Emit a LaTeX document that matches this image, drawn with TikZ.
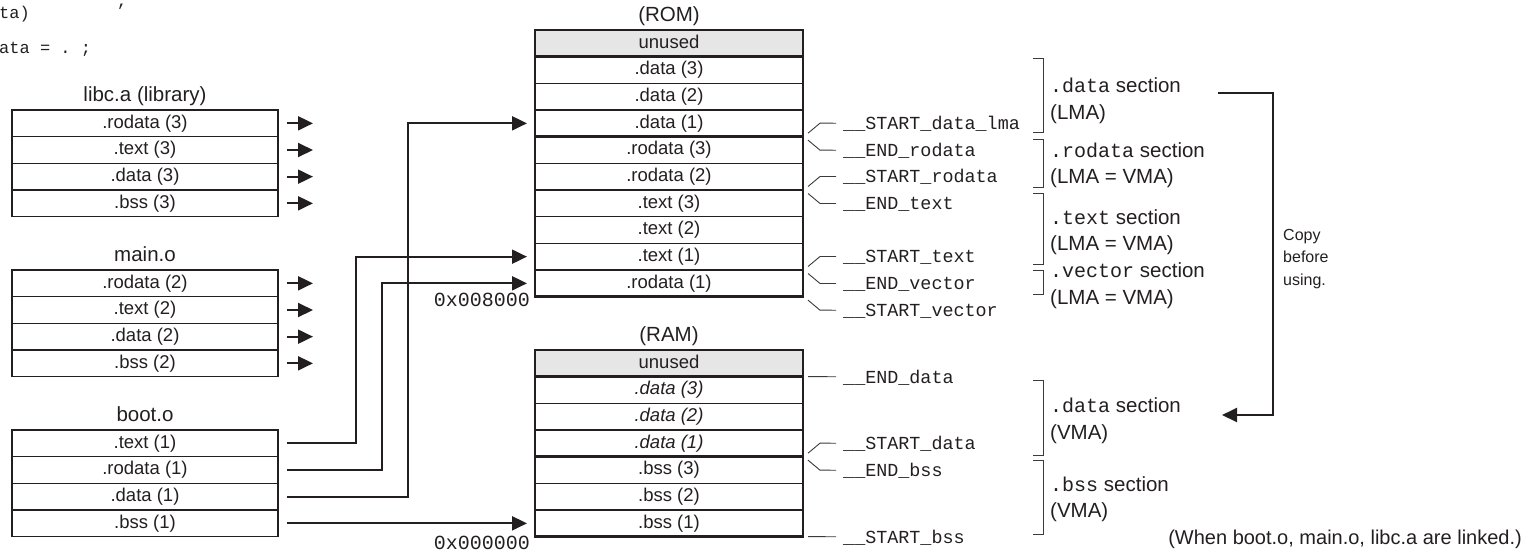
\documentclass[tikz,border=0pt]{standalone}
\usepackage{fontspec}
\setmainfont{Liberation Sans}
\setmonofont{Liberation Mono}
\usetikzlibrary{arrows.meta,calc}
\definecolor{ink}{HTML}{231F20}
\definecolor{leadgray}{HTML}{3A3A3A}
\definecolor{unusedgray}{HTML}{E6E6E6}
\newcommand{\myRowFont}{\fontsize{18.5}{22}\selectfont}
\newcommand{\myTitleFont}{\fontsize{20.5}{24}\selectfont}
\newcommand{\mySymFont}{\ttfamily\fontsize{18.4}{22}\selectfont}
\newcommand{\myAddrFont}{\ttfamily\fontsize{20}{24}\selectfont}
\newcommand{\mySecFont}{\fontsize{20.5}{24}\selectfont}
\newcommand{\mySecMono}[1]{{\ttfamily\fontsize{20}{24}\selectfont #1}}
\newcommand{\myCopyFont}{\fontsize{16}{20}\selectfont}
\newcommand{\myNoteFont}{\fontsize{20}{24}\selectfont}
\newcommand{\myFragFont}{\ttfamily\fontsize{17}{20}\selectfont}
\tikzset{
  row/.style={draw=ink, line width=1.1pt, minimum width=266pt, minimum height=26.67pt,
    inner sep=0pt, outer sep=0pt, font=\myRowFont, text=ink, text height=13.3pt, text depth=3.9pt},
  mrow/.style={row, minimum width=268pt},
  unusedrow/.style={mrow, fill=unusedgray},
  grp/.style={draw=ink, line width=2.6pt},
  ttl/.style={font=\myTitleFont, text=ink, anchor=base, inner sep=0pt},
  arr/.style={draw=ink, line width=2pt, -{Triangle[length=15pt,width=14pt]}},
  lead/.style={draw=leadgray, line width=0.9pt},
  brk/.style={draw=leadgray, line width=0.9pt},
  sym/.style={font=\mySymFont, text=ink, anchor=base west, inner sep=0pt},
  addr/.style={font=\myAddrFont, text=ink, anchor=base east, inner sep=0pt},
  seclbl/.style={font=\mySecFont, text=ink, anchor=base west, inner sep=0pt},
  copytxt/.style={font=\myCopyFont, text=ink, anchor=base west, inner sep=0pt},
  frag/.style={font=\myFragFont, text=ink, anchor=base west, inner sep=0pt}
}
\begin{document}
\begin{tikzpicture}[x=1pt,y=-1pt]
\useasboundingbox (0,0) rectangle (1530,550);

% top-left fragments
\node[frag] (fr0) at (117,6) {,};
\node[frag] (fr1) at (-1,18) {ta)};
\node[frag] (fr2) at (-1,53) {ata = . ;};

% ---- libc.a ----
\node[ttl] (tlibc) at (145,101.5) {libc.a (library)};
\node[row] (l1) at (145,123.33) {.rodata (3)};
\node[row] (l2) at (145,150) {.text (3)};
\node[row] (l3) at (145,176.67) {.data (3)};
\node[row] (l4) at (145,203.33) {.bss (3)};
% ---- main.o ----
\node[ttl] (tmain) at (145,261.5) {main.o};
\node[row] (n1) at (145,283.33) {.rodata (2)};
\node[row] (n2) at (145,310) {.text (2)};
\node[row] (n3) at (145,336.67) {.data (2)};
\node[row] (n4) at (145,363.33) {.bss (2)};
% ---- boot.o ----
\node[ttl] (tboot) at (145,421.5) {boot.o};
\node[row] (b1) at (145,443.33) {.text (1)};
\node[row] (b2) at (145,470) {.rodata (1)};
\node[row] (b3) at (145,496.67) {.data (1)};
\node[row] (b4) at (145,523.33) {.bss (1)};

% short arrows
\foreach \r in {l1,l2,l3,l4,n1,n2,n3,n4}{
  \draw[arr] ([xshift=9pt]\r.east) -- ++(26,0);
}

% ---- ROM ----
\node[ttl] (trom) at (669,21.5) {(ROM)};
\node[unusedrow] (r0) at (669,43.33) {unused};
\node[mrow] (r1) at (669,70) {.data (3)};
\node[mrow] (r2) at (669,96.67) {.data (2)};
\node[mrow] (r3) at (669,123.33) {.data (1)};
\node[mrow] (r4) at (669,150) {.rodata (3)};
\node[mrow] (r5) at (669,176.67) {.rodata (2)};
\node[mrow] (r6) at (669,203.33) {.text (3)};
\node[mrow] (r7) at (669,230) {.text (2)};
\node[mrow] (r8) at (669,256.67) {.text (1)};
\node[mrow] (r9) at (669,283.33) {.rodata (1)};
\draw[grp] (r1.north west) rectangle (r3.south east);
\draw[grp] (r4.north west) rectangle (r5.south east);
\draw[grp] (r6.north west) rectangle (r8.south east);
\draw[grp] (r9.north west) rectangle (r9.south east);
\node[addr] (a1) at (530,306) {0x008000};

% ---- RAM ----
\node[ttl] (tram) at (669,341.5) {(RAM)};
\node[unusedrow] (m0) at (669,363.33) {unused};
\node[mrow] (m1) at (669,390) {\itshape .data (3)};
\node[mrow] (m2) at (669,416.67) {\itshape .data (2)};
\node[mrow] (m3) at (669,443.33) {\itshape .data (1)};
\node[mrow] (m4) at (669,470) {.bss (3)};
\node[mrow] (m5) at (669,496.67) {.bss (2)};
\node[mrow] (m6) at (669,523.33) {.bss (1)};
\draw[grp] (m1.north west) rectangle (m3.south east);
\draw[grp] (m4.north west) rectangle (m6.south east);
\node[addr] (a0) at (530,549) {0x000000};

% boot.o -> ROM / RAM connectors
\coordinate (vA) at (347,0);
\coordinate (vB) at (373,0);
\coordinate (vC) at (399,0);
\draw[arr] ([xshift=9pt]b1.east) -- ([xshift=9pt]b1.east -| vA) |- ([xshift=-8pt]r8.west);
\draw[arr] ([xshift=9pt]b2.east) -- ([xshift=9pt]b2.east -| vB) |- ([xshift=-8pt]r9.west);
\draw[arr] ([xshift=9pt]b3.east) -- ([xshift=9pt]b3.east -| vC) |- ([xshift=-8pt]r3.west);
\draw[arr] ([xshift=9pt]b4.east) -- ([xshift=-8pt]m6.west);

% ---- symbols (ROM) ----
\node[sym] (sdl) at (843,129.2) {\_\_START\_data\_lma};
\node[sym] (erd) at (843,156.2) {\_\_END\_rodata};
\node[sym] (srd) at (843,182.5) {\_\_START\_rodata};
\node[sym] (etx) at (843,209.5) {\_\_END\_text};
\node[sym] (stx) at (843,262.5) {\_\_START\_text};
\node[sym] (evc) at (843,289.5) {\_\_END\_vector};
\node[sym] (svc) at (843,316.2) {\_\_START\_vector};
\draw[lead] ([shift={(5,-3.5)}]r3.south east) -- ++(12,-10) -- ([shift={(-7,-6)}]sdl.base west);
\draw[lead] ([shift={(5,3.5)}]r4.north east) -- ++(12,10) -- ([shift={(-7,-6)}]erd.base west);
\draw[lead] ([shift={(5,-3.5)}]r5.south east) -- ++(12,-10) -- ([shift={(-7,-6)}]srd.base west);
\draw[lead] ([shift={(5,3.5)}]r6.north east) -- ++(12,10) -- ([shift={(-7,-6)}]etx.base west);
\draw[lead] ([shift={(5,-3.5)}]r8.south east) -- ++(12,-10) -- ([shift={(-7,-6)}]stx.base west);
\draw[lead] ([shift={(5,3.5)}]r9.north east) -- ++(12,10) -- ([shift={(-7,-6)}]evc.base west);
\draw[lead] ([shift={(5,3.5)}]r9.south east) -- ++(12,10) -- ([shift={(-7,-6)}]svc.base west);

% ---- symbols (RAM) ----
\node[sym] (edt) at (843,383.7) {\_\_END\_data};
\node[sym] (sdt) at (843,449.2) {\_\_START\_data};
\node[sym] (ebs) at (843,476.2) {\_\_END\_bss};
\node[sym] (sbs) at (843,543.7) {\_\_START\_bss};
\draw[lead] ([xshift=5pt]m1.north east) -- ([shift={(-7,-7)}]edt.base west);
\draw[lead] ([shift={(5,-3.5)}]m3.south east) -- ++(12,-10) -- ([shift={(-7,-6)}]sdt.base west);
\draw[lead] ([shift={(5,3.5)}]m4.north east) -- ++(12,10) -- ([shift={(-7,-6)}]ebs.base west);
\draw[lead] ([xshift=5pt]m6.south east) -- ([shift={(-7,-7)}]sbs.base west);

% ---- brackets ----
\draw[brk] (1033,58) -- (1043,58) -- (1043,132) -- (1033,132);
\draw[brk] (1033,139) -- (1043,139) -- (1043,187) -- (1033,187);
\draw[brk] (1033,193) -- (1043,193) -- (1043,264) -- (1033,264);
\draw[brk] (1033,270) -- (1043,270) -- (1043,294) -- (1033,294);
\draw[brk] (1033,380) -- (1043,380) -- (1043,455) -- (1033,455);
\draw[brk] (1033,460) -- (1043,460) -- (1043,534) -- (1033,534);

% ---- section labels ----
\node[seclbl] (s1a) at (1050,92.3) {\mySecMono{.data} section};
\node[seclbl] (s1b) at (1050,119.3) {(LMA)};
\node[seclbl] (s2a) at (1050,157.3) {\mySecMono{.rodata} section};
\node[seclbl] (s2b) at (1050,183.3) {(LMA = VMA)};
\node[seclbl] (s3a) at (1050,224.3) {\mySecMono{.text} section};
\node[seclbl] (s3b) at (1050,250.3) {(LMA = VMA)};
\node[seclbl] (s4a) at (1050,277.3) {\mySecMono{.vector} section};
\node[seclbl] (s4b) at (1050,304.3) {(LMA = VMA)};
\node[seclbl] (s5a) at (1050,412.3) {\mySecMono{.data} section};
\node[seclbl] (s5b) at (1050,439.3) {(VMA)};
\node[seclbl] (s6a) at (1050,491.3) {\mySecMono{.bss} section};
\node[seclbl] (s6b) at (1050,517.3) {(VMA)};

% ---- copy arrow ----
\coordinate (cp0) at (1218,93);
\coordinate (cpc) at (1273,415);
\coordinate (cp1) at (1222,415);
\draw[arr] (cp0) -| (cpc) -- (cp1);
\node[copytxt] (c1) at (1283,240.7) {Copy};
\node[copytxt] (c2) at (1283,262.7) {before};
\node[copytxt] (c3) at (1283,285.7) {using.};

% ---- note ----
\node[font=\myNoteFont, text=ink, anchor=base east, inner sep=0pt] (note) at (1522,544)
  {(When boot.o, main.o, libc.a are linked.)};
\end{tikzpicture}
\end{document}
